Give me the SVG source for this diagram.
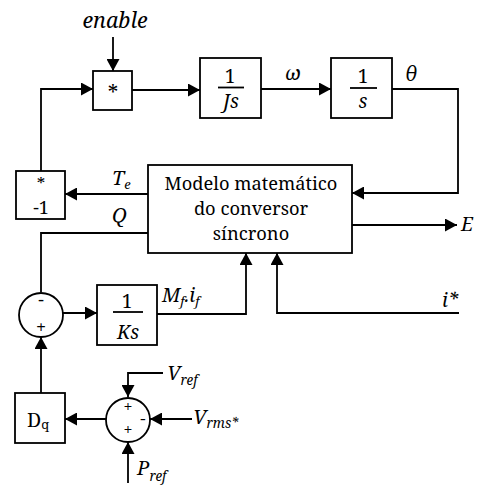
<svg xmlns="http://www.w3.org/2000/svg" width="487" height="491" viewBox="0 0 487 491">
<style>
.b{fill:#fff;stroke:#000;stroke-width:1.8}
.c{fill:none;stroke:#000;stroke-width:1.8}
text{fill:#000}
.i{font-style:italic}
.m{text-anchor:middle}
</style>
<defs>
<marker id="a" markerUnits="userSpaceOnUse" markerWidth="13" markerHeight="13" refX="12" refY="6.5" orient="auto"><path d="M0,0 L12,6.5 L0,13 z" fill="#000"/></marker>
</defs>
<g id="connectors" class="c">
<path d="M113,37 V71" marker-end="url(#a)"/>
<path d="M41,171 V89 H93" marker-end="url(#a)"/>
<path d="M132,90 H200" marker-end="url(#a)"/>
<path d="M261,89 H331" marker-end="url(#a)"/>
<path d="M392,89 H458 V193 H352" marker-end="url(#a)"/>
<path d="M148,194 H65" marker-end="url(#a)"/>
<path d="M148,233 H41 V292"/>
<path d="M63,313 H97" marker-end="url(#a)"/>
<path d="M157,314 H246 V253" marker-end="url(#a)"/>
<path d="M459,313 H277 V253" marker-end="url(#a)"/>
<path d="M352,225 H457" marker-end="url(#a)"/>
<path d="M41,393 V337" marker-end="url(#a)"/>
<path d="M106,419 H65" marker-end="url(#a)"/>
<path d="M163,373 H128 V397" marker-end="url(#a)"/>
<path d="M192,419 H150" marker-end="url(#a)"/>
<path d="M128,483 V442" marker-end="url(#a)"/>
</g>
<g font-family="Noto Serif">
<g id="enable_label"><text class="i m" x="115" y="28" font-size="21.5">enable</text></g>
<g id="mult"><rect class="b" x="93" y="71" width="39" height="39"/><text class="m" x="113" y="101" font-size="21">*</text></g>
<g id="Js"><rect class="b" x="200" y="58" width="61" height="60"/><text class="m" x="230" y="83" font-size="19">1</text><path class="c" d="M218,87.5 H244"/><text class="i m" x="231" y="108" font-size="19">Js</text></g>
<g id="omega_label"><text class="i" x="285" y="80" font-size="20">ω</text></g>
<g id="s"><rect class="b" x="331" y="58" width="61" height="60"/><text class="m" x="363" y="83" font-size="19">1</text><path class="c" d="M350,88 H377"/><text class="i m" x="363" y="108" font-size="19">s</text></g>
<g id="theta_label"><text class="i" x="405" y="81" font-size="20">θ</text></g>
<g id="model"><rect class="b" x="148" y="165" width="204" height="88"/>
<text class="m" x="251" y="190" font-size="18.3">Modelo matemático</text>
<text class="m" x="251" y="215" font-size="18.3">do conversor</text>
<text class="m" x="251" y="240" font-size="18.3">síncrono</text></g>
<g id="neg1"><rect class="b" x="16" y="171" width="49" height="48"/><text class="m" x="41" y="190" font-size="17">*</text><text class="m" x="41" y="214" font-size="18">-1</text></g>
<g id="Te_label"><text class="i" x="112" y="185" font-size="20">T<tspan font-size="13" dy="4">e</tspan></text></g>
<g id="Q_label"><text class="i" x="112" y="222" font-size="20">Q</text></g>
<g id="E_label"><text class="i" x="461" y="231" font-size="19.5">E</text></g>
<g id="sum1"><circle class="b" cx="41" cy="315" r="22"/><text class="m" x="41" y="306" font-size="18">-</text><text class="m" x="41" y="334" font-size="18">+</text></g>
<g id="Ks"><rect class="b" x="97" y="285" width="60" height="60"/><text class="m" x="127" y="308" font-size="19">1</text><path class="c" d="M113,312 H143"/><text class="i m" x="128" y="339" font-size="19">Ks</text></g>
<g id="Mfif_label"><text class="i" x="162" y="302" font-size="19.5">M<tspan font-size="13" dy="4">f</tspan><tspan dy="-4">.i</tspan><tspan font-size="13" dy="4">f</tspan></text></g>
<g id="istar_label"><text class="i" x="442" y="307" font-size="19.5">i*</text></g>
<g id="Dq"><rect class="b" x="15" y="393" width="50" height="50"/><text x="27" y="427" font-size="19.5">D<tspan font-size="13" dy="2">q</tspan></text></g>
<g id="sum2"><circle class="b" cx="128" cy="420" r="22"/><text class="m" x="128" y="412" font-size="16">+</text><text class="m" x="128" y="435" font-size="16">+</text><text class="m" x="143" y="424" font-size="17">-</text></g>
<g id="Vref_label"><text class="i" x="167" y="380" font-size="20">V<tspan font-size="13.5" dy="5">ref</tspan></text></g>
<g id="Vrms_label"><text class="i" x="193" y="424" font-size="20">V<tspan font-size="13.5" dy="4">rms*</tspan></text></g>
<g id="Pref_label"><text class="i" x="137" y="475" font-size="20">P<tspan font-size="13.5" dy="6">ref</tspan></text></g>
</g>
</svg>
